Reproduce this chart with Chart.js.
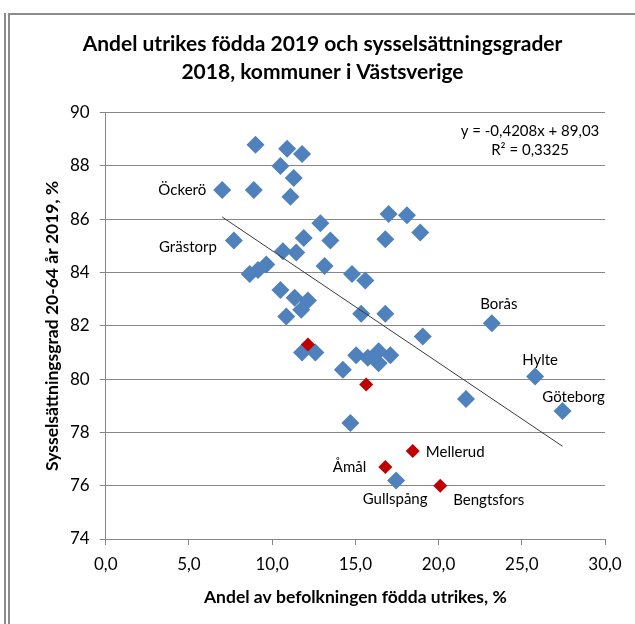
<!DOCTYPE html>
<html>
<head>
<meta charset="utf-8">
<script src="https://cdn.jsdelivr.net/npm/chart.js@4.4.1/dist/chart.umd.min.js"></script>
<style>
    html, body { margin: 0; padding: 0; background: #fff; width: 635px; height: 624px; overflow: hidden; position: relative; }
    .edge { position: absolute; left: 4px; top: 13px; bottom: 0; width: 2px; background: #8c8c8c; }
    .frame { position: absolute; left: 8px; top: 13px; right: -10px; bottom: -10px; border-left: 2px solid #8c8c8c; border-top: 2px solid #8c8c8c; }
    #wrap { position: absolute; left: 10px; top: 14px; width: 625px; height: 610px; }
</style>
</head>
<body>
<div class="edge"></div>
<div class="frame"></div>
<div id="wrap"><canvas id="chart" width="625" height="610"></canvas></div>
<script>
// Kommuner, blue markers
const blueX = [9.0, 10.9, 11.8, 10.5, 11.3, 7.0, 8.9, 11.1, 12.9, 7.7, 11.9, 13.5, 10.65, 11.45, 13.15, 14.8,
    9.65, 9.15, 8.65, 10.5, 11.35, 12.15, 11.75, 10.85, 17.0, 18.1, 18.9, 16.8, 15.6, 15.35, 16.8, 23.2,
    19.05, 11.8, 12.6, 14.25, 15.05, 15.75, 16.4, 16.4, 17.1, 25.8, 21.65, 27.45, 14.7, 17.45];
const blueY = [88.8, 88.65, 88.45, 88.0, 87.55, 87.1, 87.1, 86.85, 85.85, 85.2, 85.3, 85.2, 84.8, 84.75, 84.25, 83.95,
    84.3, 84.1, 83.95, 83.35, 83.05, 82.95, 82.6, 82.35, 86.2, 86.15, 85.5, 85.25, 83.7, 82.45, 82.45, 82.1,
    81.6, 81.0, 81.0, 80.35, 80.9, 80.8, 81.05, 80.6, 80.9, 80.1, 79.25, 78.8, 78.35, 76.2];
const blueNames = ['', '', '', '', '', 'Öckerö', '', '', '', 'Grästorp', '', '', '', '', '', '',
    '', '', '', '', '', '', '', '', '', '', '', '', '', '', '', 'Borås',
    '', '', '', '', '', '', '', '', '', 'Hylte', '', 'Göteborg', '', 'Gullspång'];

// Kommuner, red markers
const redX = [12.15, 15.65, 18.45, 16.8, 20.1];
const redY = [81.3, 79.8, 77.3, 76.7, 76.0];
const redNames = ['', '', 'Mellerud', 'Åmål', 'Bengtsfors'];

// Linear trendline as printed on the chart
const trendSlope = -0.4208;
const trendIntercept = 89.03;
const trendText = ['y = -0,4208x + 89,03', 'R² = 0,3325'];

const xTicks = [0, 5, 10, 15, 20, 25, 30];
const yTicks = [74, 76, 78, 80, 82, 84, 86, 88, 90];

const titleLines = ['Andel utrikes födda 2019 och sysselsättningsgrader', '2018, kommuner i Västsverige'];
const xTitle = 'Andel av befolkningen födda utrikes, %';
const yTitle = 'Sysselsättningsgrad 20-64 år 2019, %';

const FONT = 'Lato, "Open Sans", sans-serif';
const GRID = '#878787';

const toPoints = (xs, ys) => xs.map((x, i) => ({ x: x, y: ys[i] }));
const allX = blueX.concat(redX);
const trendX = [Math.min(...allX), Math.max(...allX)];
const trendPoints = trendX.map(x => ({ x: x, y: trendSlope * x + trendIntercept }));

// Where each name sits relative to its marker
const labelPlacement = {
    'Öckerö': { dx: -16, dy: 0, align: 'right' },
    'Grästorp': { dx: -17, dy: 7, align: 'right' },
    'Borås': { dx: 7, dy: -19, align: 'center' },
    'Hylte': { dx: 5, dy: -16, align: 'center' },
    'Göteborg': { dx: 11, dy: -14, align: 'center' },
    'Mellerud': { dx: 13, dy: 1, align: 'left' },
    'Åmål': { dx: -19, dy: 0, align: 'right' },
    'Gullspång': { dx: -1, dy: 19, align: 'center' },
    'Bengtsfors': { dx: 13, dy: 14, align: 'left' }
};

/**
 * Draws municipality names and the trendline equation
 */
const labelPlugin = {
    id: 'pointLabels',
    afterDatasetsDraw(chart) {
        const ctx = chart.ctx;
        ctx.save();
        ctx.font = '15px ' + FONT;
        ctx.fillStyle = '#000';
        ctx.textBaseline = 'middle';

        const drawNames = (datasetIndex, names) => {
            const meta = chart.getDatasetMeta(datasetIndex);
            names.forEach((name, i) => {
                if (!name) return;
                const p = labelPlacement[name];
                const el = meta.data[i];
                ctx.textAlign = p.align;
                ctx.fillText(name, el.x + p.dx, el.y + p.dy);
            });
        };
        drawNames(1, redNames);
        drawNames(2, blueNames);

        // Equation box in the upper right corner
        const area = chart.chartArea;
        ctx.textAlign = 'center';
        ctx.fillText(trendText[0], area.right - 75, area.top + 18);
        ctx.fillText(trendText[1], area.right - 75, area.top + 37);
        ctx.restore();
    }
};

const tickFont = { family: FONT, size: 17 };
const axisTitleFont = { family: FONT, size: 17.5, weight: 'bold', lineHeight: '21px' };

new Chart(document.getElementById('chart'), {
    type: 'scatter',
    data: {
        datasets: [
            {
                type: 'line',
                data: trendPoints,
                borderColor: '#3a3a3a',
                borderWidth: 1,
                pointRadius: 0,
                fill: false
            },
            {
                data: toPoints(redX, redY),
                pointStyle: 'rectRot',
                pointRadius: 7,
                backgroundColor: '#C00000',
                borderColor: '#C00000',
                borderWidth: 0
            },
            {
                data: toPoints(blueX, blueY),
                pointStyle: 'rectRot',
                pointRadius: 9,
                backgroundColor: '#4F81BD',
                borderColor: '#4F81BD',
                borderWidth: 0
            }
        ]
    },
    options: {
        responsive: false,
        animation: false,
        devicePixelRatio: 1,
        // equal side padding keeps the chart title centred on the whole chart
        layout: { padding: { left: 30, right: 30, top: 0, bottom: 0 } },
        plugins: {
            legend: { display: false },
            tooltip: { enabled: false },
            title: {
                display: true,
                text: titleLines,
                color: '#000',
                font: { family: FONT, size: 21, weight: 'bold', lineHeight: '28px' },
                padding: { top: 16, bottom: 26.7 }
            }
        },
        scales: {
            x: {
                type: 'linear',
                min: 0,
                max: 30,
                afterBuildTicks: scale => { scale.ticks = xTicks.map(v => ({ value: v })); },
                afterFit: scale => { scale.height = 85; },
                ticks: {
                    color: '#000',
                    font: tickFont,
                    padding: 9,
                    maxRotation: 0,
                    callback: v => v.toFixed(1).replace('.', ',')
                },
                grid: { drawOnChartArea: false, drawTicks: true, tickLength: 6, color: GRID },
                border: { color: GRID },
                title: {
                    display: true,
                    text: xTitle,
                    color: '#000',
                    font: axisTitleFont,
                    padding: { top: 0, bottom: 16.5 }
                }
            },
            y: {
                min: 74,
                max: 90,
                afterBuildTicks: scale => { scale.ticks = yTicks.map(v => ({ value: v })); },
                afterFit: scale => { scale.width = 65.7; },
                ticks: {
                    color: '#000',
                    font: tickFont,
                    padding: 10
                },
                grid: { color: GRID, tickLength: 6 },
                border: { color: GRID },
                title: {
                    display: true,
                    text: yTitle,
                    color: '#000',
                    font: axisTitleFont,
                    padding: { top: 2.1, bottom: 0 }
                }
            }
        }
    },
    plugins: [labelPlugin]
});
</script>
</body>
</html>
